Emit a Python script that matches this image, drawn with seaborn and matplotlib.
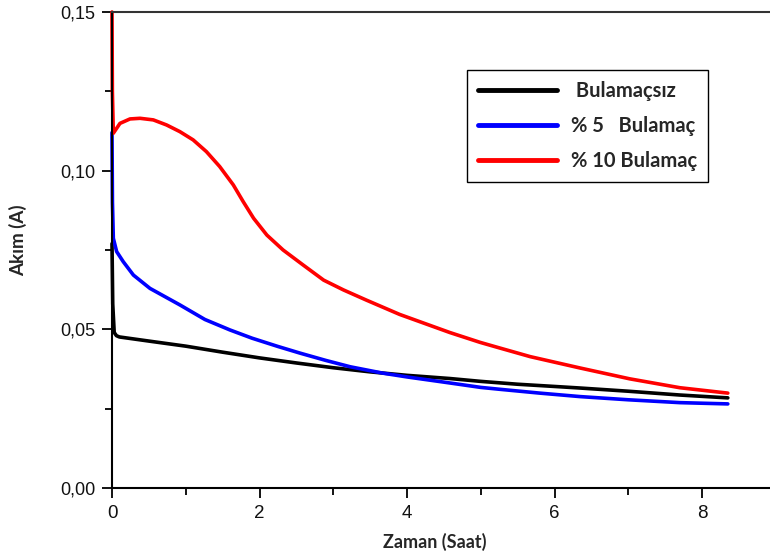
import numpy as np
import pandas as pd
import matplotlib
matplotlib.use("Agg")
import matplotlib.pyplot as plt
import seaborn as sns
from matplotlib.ticker import MultipleLocator, FuncFormatter

# ---- data ----
series_names = [" Bulamaçsız", "% 5   Bulamaç", "% 10 Bulamaç"]
series_colors = ["#000000", "#0000ff", "#ff0000"]

black_x = [0.0, 0.01, 0.03, 0.06, 0.1, 0.5, 1.0, 1.5, 2.0, 2.5, 3.0, 3.5, 4.0, 4.58, 5.0,
           5.5, 6.0, 6.35, 7.0, 7.7, 8.35]
black_y = [0.077, 0.058, 0.0490, 0.0480, 0.0476, 0.0463, 0.0447, 0.0428, 0.0410, 0.0394,
           0.0379, 0.0366, 0.0355, 0.0345, 0.0336, 0.0327, 0.0320, 0.0315, 0.0305, 0.0293, 0.0284]

blue_x = [0.0, 0.006, 0.018, 0.063, 0.153, 0.29, 0.515, 0.92, 1.26, 1.6, 1.9, 2.25, 2.55,
          2.9, 3.23, 3.67, 4.0, 4.58, 5.0, 5.26, 5.8, 6.35, 7.0, 7.7, 8.35]
blue_y = [0.112, 0.090, 0.0787, 0.0745, 0.0713, 0.0671, 0.0629, 0.0577, 0.0531, 0.0498,
          0.0472, 0.0446, 0.0425, 0.0402, 0.0382, 0.0362, 0.0350, 0.0331, 0.0317, 0.0311,
          0.0299, 0.0288, 0.0278, 0.0269, 0.0265]

red_x = [0.0, 0.005, 0.018, 0.108, 0.244, 0.38, 0.56, 0.74, 0.92, 1.10, 1.28, 1.46, 1.645,
         1.78, 1.92, 2.10, 2.32, 2.59, 2.87, 3.14, 3.45, 3.9, 4.58, 4.99, 5.26, 5.67, 6.35,
         7.02, 7.7, 8.35]
red_y = [0.150, 0.125, 0.1118, 0.1149, 0.1163, 0.1165, 0.1160, 0.1144, 0.1123, 0.1097, 0.1060,
         0.1013, 0.0955, 0.0902, 0.0850, 0.0797, 0.0750, 0.0703, 0.0655, 0.0624, 0.0592,
         0.0547, 0.0490, 0.0459, 0.0441, 0.0414, 0.0378, 0.0344, 0.0316, 0.0299]

x_ticks = [0, 2, 4, 6, 8]
y_ticks = [0.00, 0.05, 0.10, 0.15]

# ---- long-form table ----
frames = []
for name, xs, ys in zip(series_names, [black_x, blue_x, red_x], [black_y, blue_y, red_y]):
    frames.append(pd.DataFrame({"Zaman": xs, "Akim": ys, "Seri": name}))
df = pd.concat(frames, ignore_index=True)

sns.set_theme(style="ticks")
plt.rcParams["font.family"] = ["Liberation Sans", "DejaVu Sans"]

fig = plt.figure(figsize=(7.7, 5.6), dpi=100)
ax = fig.add_axes([112 / 770, 72 / 560, 658 / 770, 476 / 560])

sns.lineplot(data=df, x="Zaman", y="Akim", hue="Seri",
             palette=dict(zip(series_names, series_colors)), hue_order=series_names,
             sort=False, estimator=None, linewidth=2.6, ax=ax)
for ln in ax.get_lines():
    ln.set_clip_on(False)
    ln.set_solid_joinstyle("round")
    ln.set_solid_capstyle("round")

ax.set_xlim(0, 658 / 73.75)
ax.set_ylim(0, 0.15)

ax.set_xticks(x_ticks)
ax.set_yticks(y_ticks)
ax.xaxis.set_minor_locator(MultipleLocator(1))
ax.yaxis.set_minor_locator(MultipleLocator(0.025))
ax.yaxis.set_major_formatter(FuncFormatter(lambda v, p: f"{v:.2f}".replace(".", ",")))
ax.xaxis.set_major_formatter(FuncFormatter(lambda v, p: f"{v:.0f}"))

ax.tick_params(axis="both", which="major", direction="out", length=7, width=1.3,
               color="black", labelsize=13.5, labelcolor="#111111",
               bottom=True, left=True, top=False, right=False, pad=5)
ax.tick_params(axis="y", which="major", labelsize=13)
ax.tick_params(axis="both", which="minor", direction="out", length=5, width=1.3,
               color="black", bottom=True, left=True, top=False, right=False)

for side in ["left", "bottom", "top"]:
    ax.spines[side].set_visible(True)
    ax.spines[side].set_color("black")
    ax.spines[side].set_linewidth(1.5)
ax.spines["right"].set_visible(False)
ax.spines["top"].set_color("#333333")

ax.set_xlabel("Zaman (Saat)", fontsize=13, fontweight="bold", family=["Lato", "DejaVu Sans"])
ax.set_ylabel("Akım (A)", fontsize=13.5, fontweight="bold", family=["Lato", "DejaVu Sans"])
ax.xaxis.set_label_coords((435 - 112) / 658, -0.095)
ax.yaxis.set_label_coords((27 - 112) / 658, (488 - 240) / 476)

handles, labels = ax.get_legend_handles_labels()
leg = ax.legend(handles, labels, loc="upper left",
                bbox_to_anchor=((467 - 112) / 658, (488 - 70) / 476),
                borderaxespad=0, frameon=True, fancybox=False, edgecolor="black",
                framealpha=1, handlelength=3.9, handletextpad=0.7, labelspacing=0.74,
                borderpad=0.55, prop={"family": ["Lato", "DejaVu Sans"], "weight": "bold",
                                     "size": 14.5})
leg.get_frame().set_linewidth(1.0)
for ln in leg.get_lines():
    ln.set_linewidth(3.5)
    ln.set_solid_capstyle("round")

fig.savefig("out.png", dpi=100)
